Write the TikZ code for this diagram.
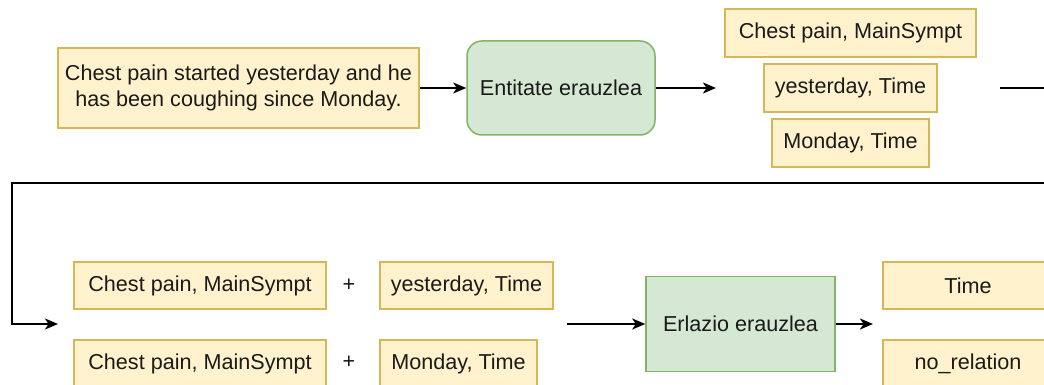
\documentclass[tikz,border=0pt]{standalone}
\usepackage{fontspec}
\setmainfont{Liberation Sans}
\usetikzlibrary{arrows.meta}
\definecolor{yfill}{HTML}{FFF2CC}
\definecolor{ydraw}{HTML}{D6B656}
\definecolor{gfill}{HTML}{D5E8D4}
\definecolor{gdraw}{HTML}{82B366}
\definecolor{txt}{HTML}{1A1A1A}
\tikzset{
  ybox/.style={draw=ydraw, fill=yfill, line width=1.5pt, inner sep=0pt, align=center, text=txt},
  gbox/.style={draw=gdraw, fill=gfill, line width=1.5pt, inner sep=0pt, align=center, text=txt},
  conn/.style={line width=2pt, -{Stealth[length=13pt,width=11pt,inset=3.5pt]}},
  plus/.style={inner sep=0pt, text=txt}
}
\begin{document}
\begin{tikzpicture}[x=1pt,y=-1pt,font=\fontsize{21.6}{26}\selectfont]
\useasboundingbox (0,0) rectangle (1044,385);
\clip (0,0) rectangle (1044,385);
\fill[white] (0,0) rectangle (1044,385);
% top row
\node[ybox, minimum width=361pt, minimum height=80pt] (sent) at (238.5,88) {Chest pain started yesterday and he\\has been coughing since Monday.};
\node[gbox, rounded corners=15pt, minimum width=188pt, minimum height=94pt] (ent) at (561,88) {Entitate erauzlea};
\node[ybox, minimum width=251pt, minimum height=48pt] (e1) at (850.5,33) {Chest pain, MainSympt};
\node[ybox, minimum width=173pt, minimum height=48pt] (e2) at (850.5,88) {yesterday, Time};
\node[ybox, minimum width=157pt, minimum height=48pt] (e3) at (850.5,143) {Monday, Time};
\coordinate (egin) at (716,88);
\coordinate (egout) at (1000,88);
% bottom row
\node[ybox, minimum width=252pt, minimum height=47pt] (p1a) at (200,285.5) {Chest pain, MainSympt};
\node[plus] (plusa) at (349,285) {+};
\node[ybox, minimum width=173pt, minimum height=47pt] (p1b) at (466.5,285.5) {yesterday, Time};
\node[ybox, minimum width=252pt, minimum height=47pt] (p2a) at (200,363.5) {Chest pain, MainSympt};
\node[plus] (plusb) at (349,362) {+};
\node[ybox, minimum width=157pt, minimum height=47pt] (p2b) at (458.5,363.5) {Monday, Time};
\coordinate (pgin) at (58,324);
\node[gbox, minimum width=189pt, minimum height=95pt] (rel) at (740.5,324) {Erlazio erauzlea};
\coordinate (pgout) at (567,324);
\coordinate (rin) at (873,324);
\node[ybox, minimum width=170pt, minimum height=47pt] (r1) at (968,285.5) {Time};
\node[ybox, minimum width=170pt, minimum height=47pt] (r2) at (968,363.5) {no\_relation};
% connectors
\draw[conn] (sent.east) -- (ent.west);
\draw[conn] (ent.east) -- (egin);
\draw[conn] (egout) -- (1060,88) -- (1060,183) -- (12,183) -- (12,324) -- (pgin);
\draw[conn] (pgout) -- (rel.west);
\draw[conn] (rel.east) -- (rin);
\end{tikzpicture}
\end{document}
